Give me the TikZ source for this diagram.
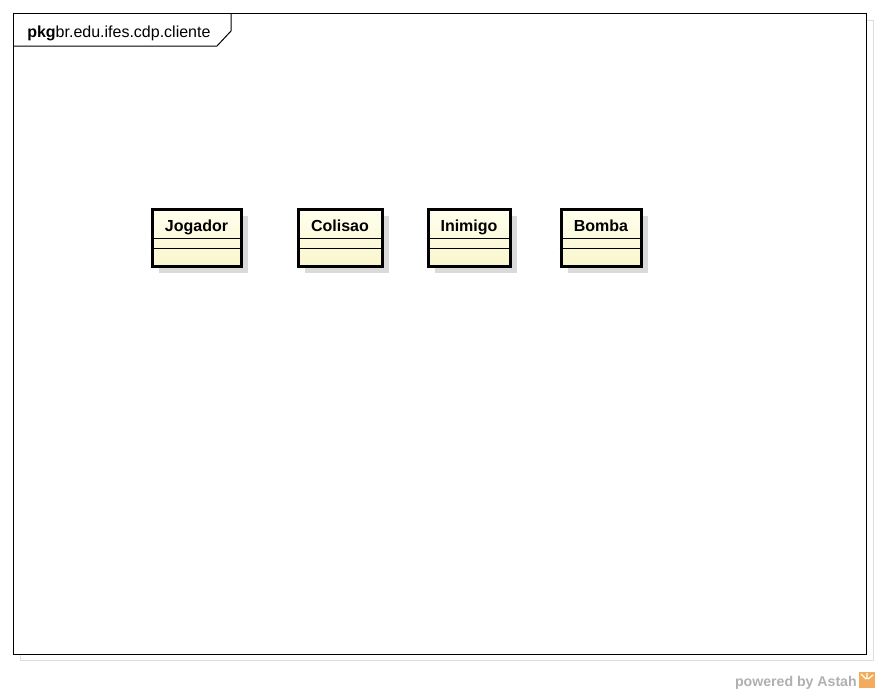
\documentclass[tikz,border=0pt]{standalone}
\usepackage{fontspec}
\setmainfont{Liberation Sans}
\usetikzlibrary{shadows,positioning}
\definecolor{classtop}{RGB}{255,255,238}
\definecolor{classbottom}{RGB}{250,246,206}
\definecolor{shadowgray}{RGB}{218,218,218}
\definecolor{framegray}{RGB}{222,222,222}
\definecolor{logogray}{RGB}{176,176,176}
\definecolor{astahorange}{RGB}{242,172,92}
\newcommand{\px}{0.75pt}
\tikzset{
    %Define style for class boxes
    classbox/.style={
           rectangle,
           draw=black, line width=2.25pt,
           top color=classtop, bottom color=classbottom,
           minimum height=57*\px,
           inner sep=0pt,
           drop shadow={shadow xshift=7*\px, shadow yshift=-7*\px,
                        fill=shadowgray, opacity=1}},
    classname/.style={
           font=\bfseries\fontsize{12}{14}\selectfont,
           inner sep=0pt,
           text centered},
    divider/.style={
           draw=black, line width=0.75pt},
    pkgframe/.style={
           draw=black, line width=0.75pt},
    pkglabel/.style={
           font=\fontsize{12}{14}\selectfont,
           inner sep=0pt},
    watermark/.style={
           font=\bfseries\fontsize{10.6}{12}\selectfont,
           text=logogray,
           inner sep=0pt}
}
\begin{document}
\begin{tikzpicture}[x=0.75pt,y=-0.75pt]
\useasboundingbox (0,0) rectangle (880,693);
 %package frame
\draw[framegray, line width=0.75pt] (20,20) rectangle (873,660);
\fill[white] (13,13) rectangle (866,654);
\draw[pkgframe] (13,13) rectangle (866,654);
\draw[pkgframe] (13,46) -- (217,46) -- (231,31) -- (231,13);
\node[pkglabel, anchor=base west] (pkg) at (27,37) {\textbf{pkg}br.edu.ifes.cdp.cliente};
 %classes
\foreach \nm/\lbl/\xa/\xb in {jogador/Jogador/152/241,
                               colisao/Colisao/298/382,
                               inimigo/Inimigo/428/510,
                               bomba/Bomba/561/641}{
  \node[classbox, minimum width={(\xb-\xa)*\px}] (\nm) at ({(\xa+\xb)/2},237.5) {};
  \draw[divider] ([yshift=-31*\px]\nm.north west) -- ([yshift=-31*\px]\nm.north east);
  \draw[divider] ([yshift=-41*\px]\nm.north west) -- ([yshift=-41*\px]\nm.north east);
  \node[classname, anchor=base] (\nm-name) at ({(\xa+\xb)/2},231) {\lbl};
}
 %logo
\node[watermark, anchor=base east] (powered) at (857,686) {powered by Astah};
\fill[astahorange] (859,672) rectangle (875,688);
\draw[white, line width=0.9pt] (861,674) -- (866,679) (867,673) -- (867,679) (873,675) -- (868,679);
\end{tikzpicture}
\end{document}
